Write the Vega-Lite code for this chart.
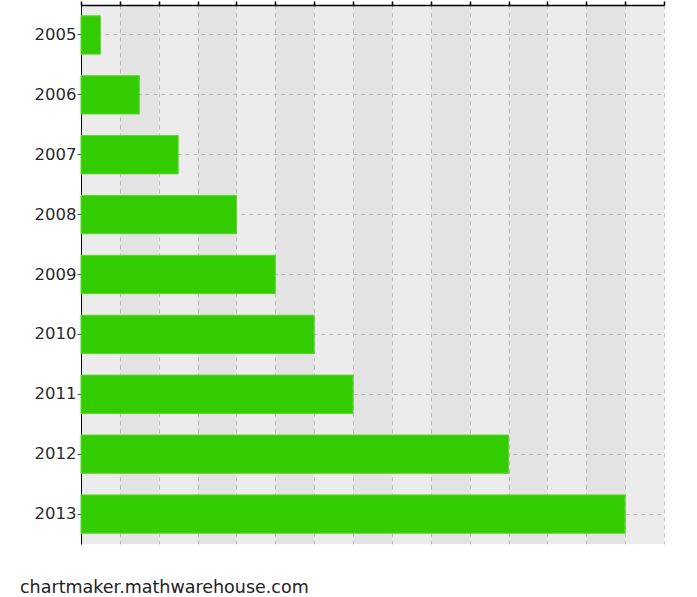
{
  "$schema": "https://vega.github.io/schema/vega-lite/v6.json",
  "autosize": "none",
  "width": 583,
  "height": 539,
  "padding": {"left": 81, "top": 5, "right": 33, "bottom": 53},
  "background": "#ffffff",
  "config": {
    "view": {"fill": "#ececec", "stroke": null},
    "font": "DejaVu Sans",
    "axisX": {
      "orient": "top",
      "values": [0, 2, 4, 6, 8, 10, 12, 14, 16, 18, 20, 22, 24, 26, 28, 30],
      "labels": false,
      "labelOverlap": false,
      "domainColor": "#000000",
      "domainWidth": 1.5,
      "tickColor": "#000000",
      "tickSize": 4,
      "tickWidth": 1.5,
      "grid": true,
      "gridColor": "#bdbdbd",
      "gridDash": [4, 4],
      "gridWidth": 1
    }
  },
  "title": {
    "text": "chartmaker.mathwarehouse.com",
    "orient": "bottom",
    "anchor": "start",
    "frame": "group",
    "dx": -61,
    "offset": 35,
    "fontSize": 17.5,
    "fontWeight": "normal",
    "color": "#222222",
    "font": "DejaVu Sans"
  },
  "datasets": {
    "bars": [
      {"year": "2005", "value": 1},
      {"year": "2006", "value": 3},
      {"year": "2007", "value": 5},
      {"year": "2008", "value": 8},
      {"year": "2009", "value": 10},
      {"year": "2010", "value": 12},
      {"year": "2011", "value": 14},
      {"year": "2012", "value": 22},
      {"year": "2013", "value": 28}
    ],
    "bands": [
      {"start": 2, "end": 4},
      {"start": 6, "end": 8},
      {"start": 10, "end": 12},
      {"start": 14, "end": 16},
      {"start": 18, "end": 20},
      {"start": 22, "end": 24},
      {"start": 26, "end": 28}
    ]
  },
  "layer": [
    {
      "data": {"name": "bands"},
      "mark": {"type": "rect", "color": "#000000", "opacity": 0.035},
      "encoding": {
        "x": {
          "field": "start",
          "type": "quantitative",
          "title": null,
          "scale": {"domain": [0, 30], "nice": false},
          "axis": {"orient": "top", "values": [0, 2, 4, 6, 8, 10, 12, 14, 16, 18, 20, 22, 24, 26, 28, 30], "labels": false}
        },
        "x2": {"field": "end"}
      }
    },
    {
      "data": {"name": "bars"},
      "mark": {"type": "bar", "color": "#33cc00", "stroke": "#5ed632", "strokeWidth": 1},
      "encoding": {
        "y": {
          "field": "year",
          "type": "nominal",
          "sort": null,
          "title": null,
          "scale": {"paddingInner": 0.36, "paddingOuter": 0.18},
          "axis": {
            "orient": "left",
            "bandPosition": 0.5,
            "domainColor": "#000000",
            "domainWidth": 1,
            "tickColor": "#555555",
            "tickSize": 4,
            "labelPadding": 1,
            "labelFontSize": 16.5,
            "labelColor": "#2a2a2a",
            "labelFont": "DejaVu Sans",
            "grid": true,
            "gridColor": "#bdbdbd",
            "gridDash": [4, 4],
            "gridWidth": 1
          }
        },
        "x": {
          "field": "value",
          "type": "quantitative",
          "title": null,
          "scale": {"domain": [0, 30], "nice": false},
          "axis": {"orient": "top", "values": [0, 2, 4, 6, 8, 10, 12, 14, 16, 18, 20, 22, 24, 26, 28, 30], "labels": false}
        }
      }
    }
  ]
}
